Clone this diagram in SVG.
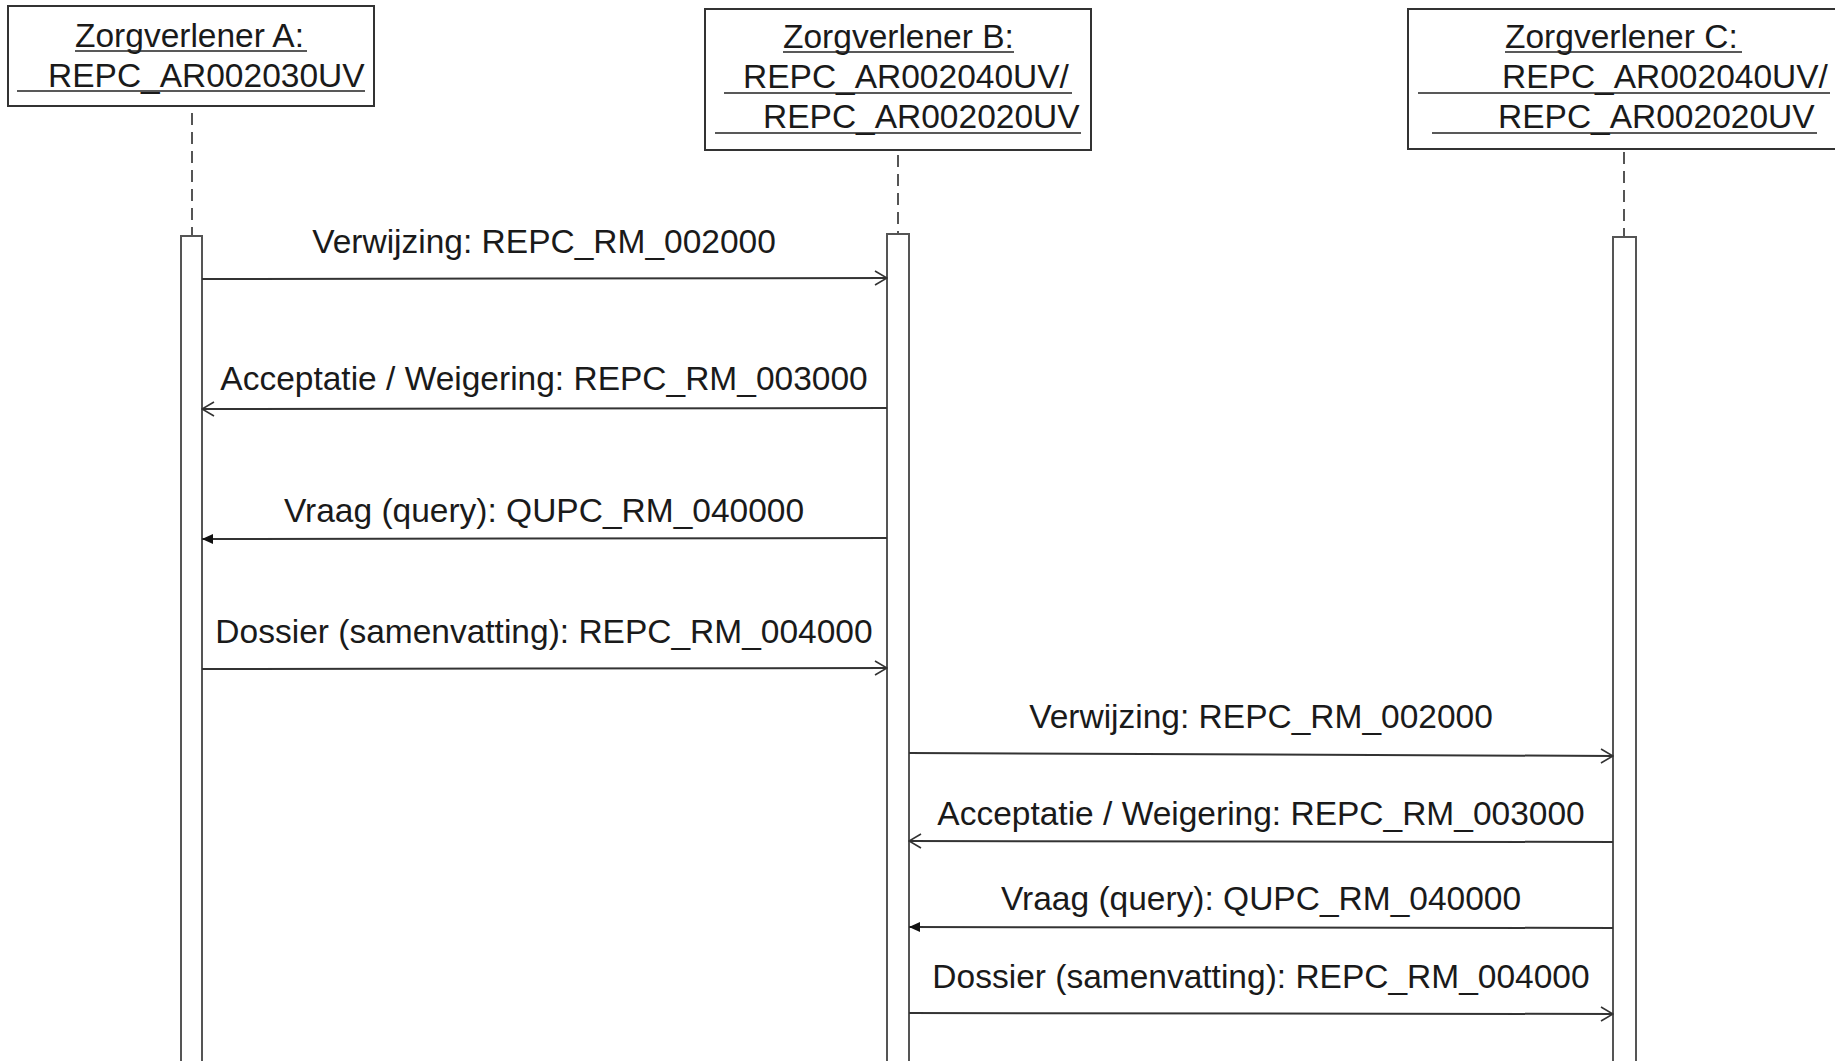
<svg xmlns="http://www.w3.org/2000/svg" width="1835" height="1061" viewBox="0 0 1835 1061">
<defs>
<style>
.box{fill:#fff;stroke:#333;stroke-width:2}
.act{fill:#fff;stroke:#555;stroke-width:2}
.life{stroke:#555;stroke-width:2;stroke-dasharray:12 7;fill:none}
.ul{stroke:#222;stroke-width:1.6}
.t{font-family:"Liberation Sans",Arial,sans-serif;font-size:33.5px;fill:#1a1a1a}
.m{font-family:"Liberation Sans",Arial,sans-serif;font-size:33.5px;fill:#1a1a1a;text-anchor:middle}
.msg{stroke:#333;stroke-width:2;fill:none}
</style>
<marker id="open" viewBox="0 0 14 16" refX="13" refY="8" markerWidth="14" markerHeight="16" markerUnits="userSpaceOnUse" orient="auto">
<path d="M1,1 L13,8 L1,15" fill="none" stroke="#333" stroke-width="1.6"/>
</marker>
<marker id="filled" viewBox="0 0 12 12" refX="11" refY="6" markerWidth="12" markerHeight="12" markerUnits="userSpaceOnUse" orient="auto">
<path d="M0,1 L11,6 L0,11 Z" fill="#111"/>
</marker>
</defs>
<rect width="1835" height="1061" fill="#fff"/>

<g id="zorgverlener-a">
<rect class="box" x="8" y="6" width="366" height="100"/>
<text class="t" x="75" y="47">Zorgverlener A:</text>
<line class="ul" x1="75" y1="51" x2="307" y2="51"/>
<text class="t" x="48" y="87">REPC_AR002030UV</text>
<line class="ul" x1="17" y1="91" x2="365" y2="91"/>
<line class="life" x1="192" y1="113" x2="192" y2="236"/>
<rect class="act" x="181" y="236" width="21" height="840"/>
</g>

<g id="zorgverlener-b">
<rect class="box" x="705" y="9" width="386" height="141"/>
<text class="t" x="783" y="48">Zorgverlener B:</text>
<line class="ul" x1="783" y1="52" x2="1014" y2="52"/>
<text class="t" x="743" y="88">REPC_AR002040UV/</text>
<line class="ul" x1="724" y1="93" x2="1072" y2="93"/>
<text class="t" x="763" y="128">REPC_AR002020UV</text>
<line class="ul" x1="715" y1="133" x2="1081" y2="133"/>
<line class="life" x1="898" y1="155" x2="898" y2="234"/>
<rect class="act" x="887" y="234" width="22" height="840"/>
</g>

<g id="zorgverlener-c">
<rect class="box" x="1408" y="9" width="440" height="140"/>
<text class="t" x="1505" y="48">Zorgverlener C:</text>
<line class="ul" x1="1505" y1="52" x2="1742" y2="52"/>
<text class="t" x="1502" y="88">REPC_AR002040UV/</text>
<line class="ul" x1="1418" y1="93" x2="1830" y2="93"/>
<text class="t" x="1498" y="128">REPC_AR002020UV</text>
<line class="ul" x1="1432" y1="133" x2="1817" y2="133"/>
<line class="life" x1="1624" y1="152" x2="1624" y2="237"/>
<rect class="act" x="1613" y="237" width="23" height="840"/>
</g>

<g id="connectors">
<line class="msg" x1="202" y1="279" x2="887" y2="278" marker-end="url(#open)"/>
<text class="m" x="544" y="253">Verwijzing: REPC_RM_002000</text>
<line class="msg" x1="887" y1="408" x2="202" y2="409" marker-end="url(#open)"/>
<text class="m" x="544" y="390">Acceptatie / Weigering: REPC_RM_003000</text>
<line class="msg" x1="887" y1="538" x2="202" y2="539" marker-end="url(#filled)"/>
<text class="m" x="544" y="522">Vraag (query): QUPC_RM_040000</text>
<line class="msg" x1="202" y1="669" x2="887" y2="668" marker-end="url(#open)"/>
<text class="m" x="544" y="643">Dossier (samenvatting): REPC_RM_004000</text>

<line class="msg" x1="909" y1="753" x2="1613" y2="756" marker-end="url(#open)"/>
<text class="m" x="1261" y="728">Verwijzing: REPC_RM_002000</text>
<line class="msg" x1="1613" y1="842" x2="909" y2="841" marker-end="url(#open)"/>
<text class="m" x="1261" y="825">Acceptatie / Weigering: REPC_RM_003000</text>
<line class="msg" x1="1613" y1="928" x2="909" y2="927" marker-end="url(#filled)"/>
<text class="m" x="1261" y="910">Vraag (query): QUPC_RM_040000</text>
<line class="msg" x1="909" y1="1013" x2="1613" y2="1014" marker-end="url(#open)"/>
<text class="m" x="1261" y="988">Dossier (samenvatting): REPC_RM_004000</text>
</g>
</svg>
